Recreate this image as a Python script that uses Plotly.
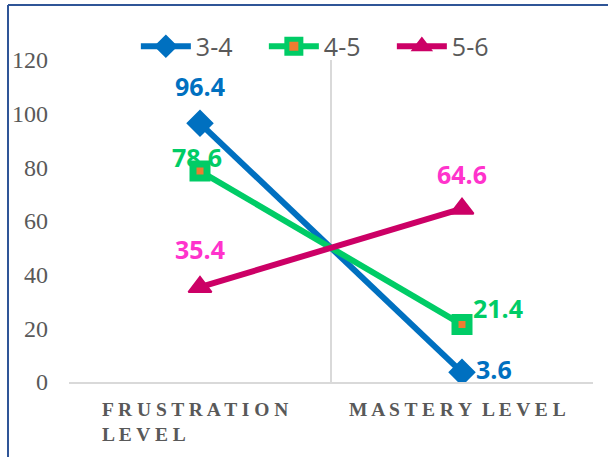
import plotly.graph_objects as go

# Reading levels per grade band
categories = ["FRUSTRATION LEVEL", "MASTERY LEVEL"]
series_names = ["3-4", "4-5", "5-6"]
values_34 = [96.4, 3.6]
values_45 = [78.6, 21.4]
values_56 = [35.4, 64.6]
y_ticks = [0, 20, 40, 60, 80, 100, 120]

line_colors = {"3-4": "#0070C0", "4-5": "#00CC66", "5-6": "#CC0066"}
label_colors = {"3-4": "#0070C0", "4-5": "#00CC66", "5-6": "#FF33CC"}
marker_styles = {
    "3-4": dict(symbol="diamond", size=19, color="#0070C0", line=dict(color="#0070C0", width=2)),
    "4-5": dict(symbol="square", size=14, color="#ED7D31", line=dict(color="#00CC66", width=7)),
    "5-6": dict(symbol="triangle-up", size=20, color="#CC0066", line=dict(color="#CC0066", width=2)),
}
# label offsets (px) relative to each point
label_shifts = {
    "3-4": [(0, 37), (32, 3)],
    "4-5": [(-3, 14), (36, 17)],
    "5-6": [(0, 38), (0, 35)],
}

series = {"3-4": values_34, "4-5": values_45, "5-6": values_56}


def spaced(text):
    return " ".join(text)


fig = go.Figure()
annotations = []
for name in series_names:
    vals = series[name]
    fig.add_trace(go.Scatter(
        x=categories, y=vals, name=name, mode="lines+markers",
        line=dict(color=line_colors[name], width=6),
        marker=marker_styles[name],
    ))
    for cat, v, (dx, dy) in zip(categories, vals, label_shifts[name]):
        annotations.append(dict(
            x=cat, y=v, text=f"{v}", showarrow=False, xshift=dx, yshift=dy,
            font=dict(family="Open Sans", size=25, color=label_colors[name], weight="bold"),
        ))

# category labels below the axis, letter-spaced and left aligned
cat_lines = {"FRUSTRATION LEVEL": ["FRUSTRATION", "LEVEL"], "MASTERY LEVEL": ["MASTERY LEVEL"]}
for cat in categories:
    txt = "<br>".join("\u2002".join(spaced(w) for w in line.split(" ")) for line in cat_lines[cat])
    annotations.append(dict(
        x=cat, y=0, yref="y", text=txt, showarrow=False, align="left",
        yanchor="top", yshift=-15, xshift=-5,
        font=dict(family="Liberation Serif", size=19.5, color="#595959", weight="bold"),
    ))

border = dict(color="#2F5597", width=2)
fig.update_layout(
    width=608, height=457,
    margin=dict(l=69, r=15, t=60, b=75),
    paper_bgcolor="white", plot_bgcolor="white",
    showlegend=True,
    legend=dict(
        orientation="h", x=0.494, y=1.042, xanchor="center", yanchor="middle",
        font=dict(family="Open Sans", size=25, color="#595959"),
        bgcolor="rgba(0,0,0,0)", itemwidth=50,
        entrywidth=63, entrywidthmode="pixels",
    ),
    annotations=annotations,
    shapes=[
        dict(type="line", xref="paper", yref="paper", x0=-0.1164, x1=-0.1164, y0=1.171, y1=-0.3,
             line=border),
        dict(type="line", xref="paper", yref="paper", x0=-0.1164, x1=1.1, y0=1.171, y1=1.171,
             line=border),
    ],
)
fig.update_xaxes(
    type="category", range=[-0.5, 1.5], tickson="boundaries",
    showgrid=True, gridcolor="#D9D9D9", gridwidth=1.5,
    showline=True, linecolor="#D9D9D9", linewidth=1.5,
    showticklabels=False, ticks="", zeroline=False,
)
fig.update_yaxes(
    range=[0, 120], tickvals=y_ticks, showgrid=False, zeroline=False, showline=False,
    tickfont=dict(family="Liberation Serif", size=24, color="#595959"),
    ticklabelstandoff=20,
)

fig.write_html("out.html")
